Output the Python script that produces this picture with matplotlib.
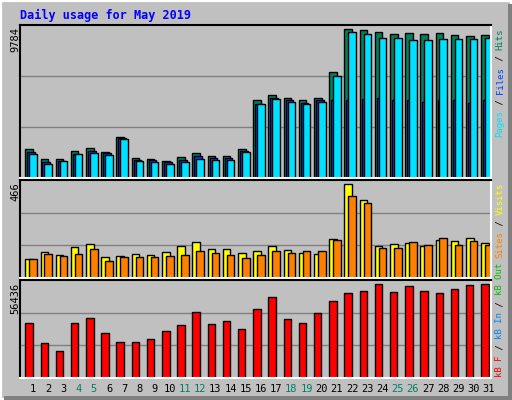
import matplotlib
matplotlib.use('Agg')
import matplotlib.pyplot as plt
from matplotlib.patches import Rectangle
import numpy as np

days = list(range(1, 32))
weekends = [4, 5, 11, 12, 18, 19, 25, 26]

hits = [1867, 1223, 1223, 1738, 1931, 1674, 2639, 1287, 1223, 1094, 1352, 1609,
        1416, 1416, 1867, 4956, 5278, 5085, 4956, 5085, 6759, 9527, 9462, 9334,
        9205, 9269, 9205, 9269, 9141, 9076, 9141]
files = [1674, 1030, 1094, 1545, 1738, 1609, 2575, 1159, 1159, 1030, 1159, 1416,
         1287, 1287, 1738, 4763, 5085, 4956, 4828, 4956, 4956, 4956, 5021, 5085,
         4956, 4956, 4892, 4956, 4956, 4828, 4956]
pages = [1545, 901, 1094, 1545, 1609, 1481, 2510, 1094, 1030, 901, 1030, 1223,
         1159, 1159, 1674, 4763, 5021, 4892, 4763, 4892, 6501, 9334, 9205, 8947,
         8947, 8819, 8819, 8883, 8883, 8883, 8947]
visits = [93, 130, 113, 153, 170, 103, 108, 118, 113, 130, 158, 178, 143, 143,
          123, 133, 158, 138, 123, 118, 193, 466, 385, 158, 168, 173, 158, 188,
          183, 198, 173]
sites = [93, 118, 108, 118, 143, 82, 103, 103, 103, 108, 113, 133, 123, 113, 98,
         113, 133, 123, 133, 133, 188, 405, 370, 148, 148, 178, 163, 198, 163,
         183, 163]
kbytes = [32960, 21218, 16274, 32960, 36050, 26780, 21836, 21836, 23072, 28016,
          31724, 39758, 32342, 34196, 29252, 41612, 48410, 35432, 32960, 39140,
          45938, 50882, 52118, 56436, 51500, 55208, 52118, 50882, 53354, 55826,
          56436]

BG = '#C0C0C0'
MONO = 'DejaVu Sans Mono'
W, H = 512, 400

fig = plt.figure(figsize=(W / 100, H / 100), dpi=100, facecolor=BG)

# outer 3D frame
fig.patches.append(Rectangle((0, 0), 1, 1, transform=fig.transFigure,
                             fill=False, edgecolor='white', linewidth=3))
fig.patches.append(Rectangle((4 / W, 0), 1 - 4 / W, 4 / H, transform=fig.transFigure,
                             facecolor='#808080', edgecolor='none'))
fig.patches.append(Rectangle((1 - 4 / W, 0), 4 / W, 1 - 4 / H, transform=fig.transFigure,
                             facecolor='#808080', edgecolor='none'))


def make_axes(top, bottom):
    ax = fig.add_axes([20 / W, 1 - bottom / H, 471 / W, (bottom - top) / H])
    ax.set_facecolor(BG)
    ax.set_xlim(0, 31)
    ax.set_xticks([])
    ax.set_yticks([])
    for s in ['top', 'left']:
        ax.spines[s].set_color('black')
    for s in ['bottom', 'right']:
        ax.spines[s].set_color('white')
    for s in ax.spines.values():
        s.set_linewidth(1.5)
    return ax


def grid(ax, ymax):
    for f in (1 / 3, 2 / 3):
        ax.axhline(ymax * f, color='#808080', linewidth=1, zorder=0)


x = np.array(days, dtype=float)
kw = dict(align='edge', edgecolor='black', linewidth=1, zorder=2)

ax1 = make_axes(25, 178)
ax1.set_ylim(0, 9784)
grid(ax1, 9784)
ax1.bar(x - 0.65, hits, 0.5, color='#00805C', **kw)
ax1.bar(x - 0.52, files, 0.5, color='#0040FF', **kw)
ax1.bar(x - 0.39, pages, 0.5, color='#00E0FF', **kw)

ax2 = make_axes(180, 278)
ax2.set_ylim(0, 484)
grid(ax2, 484)
ax2.bar(x - 0.65, visits, 0.5, color='#FFFF00', **kw)
ax2.bar(x - 0.39, sites, 0.5, color='#FF8000', **kw)

ax3 = make_axes(280, 378)
ax3.set_ylim(0, 58710)
grid(ax3, 58710)
ax3.bar(x - 0.65, kbytes, 0.49, color='#FF0000', **kw)

# title
fig.text(20 / W, 1 - 15 / H, 'Daily usage for May 2019', color='#0000FF',
         family=MONO, fontsize=8.5, fontweight='bold', va='center', ha='left')

# left max labels
for label, ytop in [('9784', 27), ('466', 182), ('56436', 283)]:
    fig.text(15 / W, 1 - ytop / H, label, rotation=90, family=MONO, fontsize=7.5,
             va='top', ha='center', color='black')

# day labels
for d in days:
    col = '#008060' if d in weekends else 'black'
    xf = (20 + (d - 0.14) * 471 / 31) / W
    fig.text(xf, 1 - 389 / H, str(d), color=col, family=MONO, fontsize=7.5,
             ha='center', va='center')

# right side legends, written bottom to top
FS = 6.5
CH = 0.602 * FS * 100 / 72  # pixels per monospace character


def vlabel(parts, ybottom):
    y = ybottom
    for text, col in parts:
        fig.text(500 / W, 1 - y / H, text, rotation=90, color=col, family=MONO,
                 fontsize=FS, ha='center', va='bottom')
        y -= CH * len(text)


vlabel([('Pages', '#00E0FF'), (' / ', 'black'), ('Files', '#0040FF'),
        (' / ', 'black'), ('Hits', '#00805C')], 137)
vlabel([('Sites', '#FF8000'), (' / ', 'black'), ('Visits', '#FFFF00')], 258)
vlabel([('kB F', '#FF0000'), (' / ', 'black'), ('kB In', '#0080FF'),
        (' / ', 'black'), ('kB Out', '#00C000')], 377)

fig.savefig('out.png', dpi=100, facecolor=BG)
